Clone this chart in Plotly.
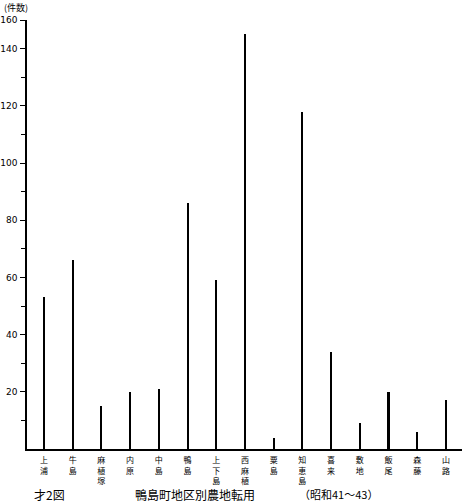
import plotly.graph_objects as go

districts = ["上浦", "牛島", "麻植塚", "内原", "中島", "鴨島", "上下島", "西麻植",
             "粟島", "知恵島", "喜来", "敷地", "飯尾", "森藤", "山路"]
counts = [53, 66, 15, 20, 21, 86, 59, 145, 4, 118, 34, 9, 20, 6, 17]

y_tickvals = [20, 40, 60, 80, 100, 120, 140, 150]
y_ticktext = ["20", "40", "60", "80", "100", "120", "140", "160"]
y_minor = [10, 30, 50, 70, 90, 110, 130]

labels = ["<br>".join(list(d)) for d in districts]

fig = go.Figure()
fig.add_trace(go.Bar(
    x=list(range(len(districts))), y=counts, width=0.07,
    marker=dict(color="black", line=dict(width=0)),
))

fig.update_layout(
    width=462, height=504,
    margin=dict(l=27, r=0, t=20, b=55, autoexpand=False),
    paper_bgcolor="white", plot_bgcolor="white",
    showlegend=False,
    font=dict(family="Noto Sans CJK JP", color="black"),
    bargap=0,
)
fig.update_xaxes(
    range=[-0.59, 14.56], automargin=False,
    tickmode="array", tickvals=list(range(len(districts))), ticktext=labels,
    tickfont=dict(size=8, family="Noto Sans CJK JP"),
    showline=True, linecolor="black", linewidth=1.5,
    ticks="", showgrid=False, zeroline=False, ticklabelstandoff=3,
)
fig.update_yaxes(
    range=[0, 150], automargin=False,
    tickmode="array", tickvals=y_tickvals, ticktext=y_ticktext,
    tickfont=dict(size=9, family="DejaVu Sans"),
    showline=True, linecolor="black", linewidth=1.5,
    ticks="outside", ticklen=5, tickwidth=1, tickcolor="black",
    minor=dict(tickvals=y_minor, ticks="outside", ticklen=4, tickcolor="black"),
    showgrid=False, zeroline=False, ticklabelstandoff=1,
)

fig.add_annotation(text="(件数)", xref="paper", yref="paper", x=-25/435, y=1 + 13/429,
                   xanchor="left", yanchor="middle", showarrow=False,
                   font=dict(size=9, family="Noto Sans CJK JP"))
fig.add_annotation(text="才2図", xref="paper", yref="paper", x=5/435, y=-45/429,
                   xanchor="left", yanchor="middle", showarrow=False,
                   font=dict(size=12, family="Noto Sans CJK JP"))
fig.add_annotation(text="鴨島町地区別農地転用", xref="paper", yref="paper", x=106/435, y=-45/429,
                   xanchor="left", yanchor="middle", showarrow=False,
                   font=dict(size=12, family="Noto Sans CJK JP"))
fig.add_annotation(text="（昭和41～43）", xref="paper", yref="paper", x=270/435, y=-45/429,
                   xanchor="left", yanchor="middle", showarrow=False,
                   font=dict(size=11, family="Noto Sans CJK JP"))

fig.write_html("out.html", config={"displayModeBar": False},
               post_script="document.body.style.margin='0';")
